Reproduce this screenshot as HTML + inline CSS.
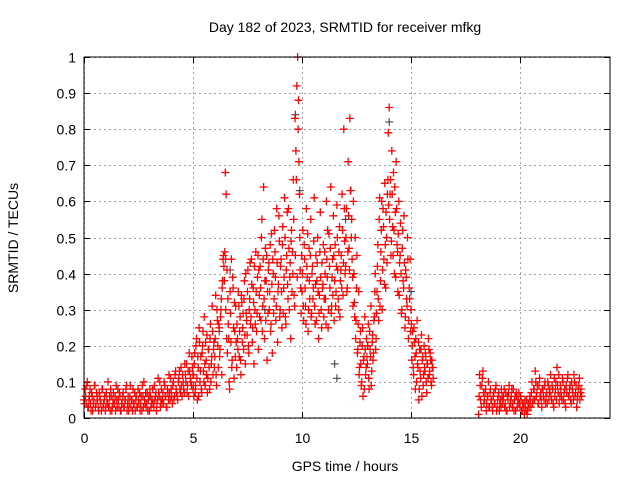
<!DOCTYPE html>
<html><head><meta charset="utf-8"><style>
html,body{margin:0;padding:0;background:#fff;}
svg text{font-family:"Liberation Sans",sans-serif;font-size:14px;fill:#000;}
</style></head><body>
<svg id="chart" width="640" height="480" viewBox="0 0 640 480" xmlns="http://www.w3.org/2000/svg">
<rect width="640" height="480" fill="#fff"/>
<text x="345" y="32" text-anchor="middle">Day 182 of 2023, SRMTID for receiver mfkg</text>
<text x="345" y="471" text-anchor="middle">GPS time / hours</text>
<text x="0" y="0" text-anchor="middle" transform="translate(18,238) rotate(-90)">SRMTID / TECUs</text>
<g id="grid"></g>
<g id="ticks"></g>
<g id="marks"></g>
<rect x="84" y="57" width="526" height="361" fill="none" stroke="#000" stroke-width="1"/>
</svg>
<script>
const xTicks=[0,5,10,15,20];
const yTicks=[0,0.1,0.2,0.3,0.4,0.5,0.6,0.7,0.8,0.9,1];
const yTickLabels=["0","0.1","0.2","0.3","0.4","0.5","0.6","0.7","0.8","0.9","1"];
const segAStart=0, segAStep=0.05;
const segAValues=[0.05,0.08,0.04,0.10,0.03,0.06,0.04,0.07,0.02,0.05,
0.09,0.04,0.06,0.03,0.07,0.05,0.02,0.08,0.04,0.06,
0.03,0.05,0.10,0.04,0.02,0.06,0.03,0.07,0.04,0.02,
0.05,0.08,0.03,0.06,0.02,0.04,0.07,0.03,0.05,0.09,
0.04,0.02,0.06,0.03,0.05,0.08,0.04,0.02,0.06,0.03,
0.05,0.07,0.04,0.02,0.06,0.10,0.04,0.03,0.07,0.05,
0.02,0.06,0.04,0.08,0.03,0.05,0.07,0.04,0.11,0.06,
0.03,0.08,0.05,0.04,0.09,0.06,0.03,0.07,0.12,0.05,
0.08,0.04,0.10,0.06,0.13,0.07,0.05,0.11,0.08,0.14,
0.06,0.10,0.07,0.12,0.15,0.09,0.06,0.13,0.10,0.17,0.08];
const segA2Start=0.025;
const segA2Values=[0.04,0.06,0.09,0.03,0.05,0.08,0.02,0.06,0.04,0.09,
0.03,0.07,0.05,0.02,0.06,0.04,0.08,0.03,0.05,0.02,
0.07,0.04,0.03,0.06,0.08,0.02,0.05,0.04,0.06,0.09,
0.03,0.05,0.07,0.02,0.04,0.06,0.03,0.05,0.08,0.02,
0.06,0.04,0.09,0.05,0.02,0.04,0.07,0.05,0.03,0.08,
0.04,0.02,0.06,0.09,0.03,0.05,0.07,0.04,0.02,0.06,
0.08,0.03,0.05,0.04,0.09,0.06,0.02,0.05,0.07,0.10,
0.05,0.04,0.07,0.10,0.06,0.03,0.08,0.05,0.07,0.11,
0.06,0.09,0.05,0.12,0.08,0.06,0.10,0.13,0.07,0.09,
0.12,0.08,0.15,0.10,0.07,0.13,0.18,0.11,0.09,0.14,0.12];
const segBStart=5, segBStep=0.04;
const segBValues=[0.12,0.06,0.18,0.09,0.22,0.05,0.14,0.25,0.10,0.17,0.07,0.20,0.13,0.28,0.09,0.16,0.23,0.11,0.19,0.08,0.26,0.15,0.31,0.12,0.21,
0.17,0.34,0.09,0.27,0.14,0.25,0.19,0.30,0.12,0.38,0.45,0.38,0.68,0.62,0.41,0.33,0.22,0.08,0.29,0.44,0.16,0.36,0.11,0.24,0.31,
0.14,0.22,0.35,0.17,0.28,0.12,0.32,0.25,0.19,0.38,0.15,0.29,0.23,0.41,0.18,0.33,0.26,0.44,0.21,0.36,0.15,0.30,0.46,0.24,0.39,
0.19,0.34,0.42,0.27,0.55,0.31,0.64,0.22,0.47,0.38,0.16,0.29,0.43,0.35,0.24,0.51,0.18,0.40,0.33,0.46,0.27,0.58,0.21,0.37,0.49,
0.30,0.44,0.25,0.53,0.36,0.61,0.28,0.41,0.57,0.33,0.47,0.39,0.22,0.52,0.46,0.66,0.34,0.83,0.74,0.92,1.00,0.88,0.62,0.41,0.29,
0.35,0.52,0.27,0.44,0.31,0.58,0.39,0.24,0.47,0.33,0.55,0.29,0.42,0.36,0.61,0.26,0.45,0.38,0.50,0.22,0.34,0.57,0.30,0.43,0.37,
0.28,0.46,0.33,0.60,0.39,0.25,0.51,0.36,0.64,0.31,0.44,0.56,0.27,0.48,0.35,0.59,0.41,0.30,0.53,0.38,0.45,0.62,0.34,0.80,0.49,
0.42,0.58,0.36,0.71,0.47,0.83,0.63,0.55,0.39,0.60,0.32,0.50,0.27,0.45,0.19,0.35,0.14,0.24,0.09,0.20,0.06,0.17,0.28,0.12,0.22,
0.15,0.26,0.08,0.19,0.31,0.13,0.23,0.18,0.28,0.40,0.22,0.35,0.48,0.27,0.61,0.38,0.52,0.30,0.58,0.44,0.65,0.36,0.50,0.62,0.79,
0.86,0.62,0.45,0.74,0.53,0.68,0.40,0.57,0.71,0.48,0.35,0.60,0.43,0.54,0.29,0.47,0.38,0.56,0.25,0.41,0.33,0.50,0.22,0.36,0.44,
0.30,0.16,0.24,0.12,0.21,0.08,0.18,0.27,0.14,0.05,0.19,0.11,0.23,0.16,0.09,0.20,0.13,0.17,0.07,0.15,0.22,0.12,0.18,0.10,0.16,0.14];
const segB2Start=5.02;
const segB2Values=[0.09,0.15,0.07,0.20,0.11,0.17,0.06,0.21,0.13,0.08,0.18,0.24,0.10,0.15,0.21,0.12,0.07,0.19,0.14,0.22,0.10,0.17,0.24,0.19,0.14,
0.22,0.12,0.30,0.20,0.26,0.17,0.28,0.33,0.36,0.44,0.42,0.46,0.30,0.22,0.18,0.26,0.10,0.35,0.21,0.14,0.39,0.25,0.32,0.17,0.21,
0.26,0.19,0.31,0.24,0.16,0.34,0.21,0.29,0.33,0.23,0.40,0.27,0.35,0.20,0.30,0.43,0.28,0.37,0.25,0.32,0.42,0.26,0.35,0.29,0.45,
0.41,0.28,0.36,0.50,0.24,0.44,0.33,0.38,0.27,0.45,0.35,0.41,0.30,0.48,0.26,0.37,0.44,0.29,0.52,0.39,0.31,0.43,0.35,0.56,0.28,
0.42,0.35,0.48,0.29,0.39,0.50,0.26,0.45,0.37,0.58,0.30,0.43,0.49,0.35,0.40,0.55,0.31,0.45,0.66,0.39,0.80,0.71,0.50,0.36,0.45,
0.40,0.31,0.48,0.36,0.26,0.42,0.51,0.30,0.38,0.45,0.28,0.40,0.33,0.49,0.31,0.37,0.27,0.43,0.35,0.29,0.46,0.39,0.25,0.36,0.48,
0.33,0.40,0.26,0.44,0.52,0.30,0.42,0.47,0.29,0.39,0.34,0.45,0.38,0.31,0.42,0.50,0.33,0.46,0.28,0.41,0.36,0.52,0.43,0.58,0.40,
0.50,0.35,0.46,0.56,0.41,0.63,0.50,0.44,0.31,0.40,0.28,0.22,0.36,0.18,0.26,0.12,0.21,0.15,0.10,0.25,0.16,0.08,0.19,0.14,0.17,
0.20,0.11,0.24,0.17,0.09,0.21,0.16,0.27,0.35,0.19,0.29,0.42,0.33,0.55,0.31,0.46,0.60,0.41,0.53,0.37,0.48,0.57,0.43,0.66,0.59,
0.55,0.66,0.49,0.62,0.45,0.52,0.64,0.39,0.58,0.46,0.51,0.34,0.45,0.40,0.30,0.52,0.36,0.43,0.28,0.39,0.31,0.44,0.27,0.33,0.24,
0.26,0.20,0.14,0.25,0.17,0.22,0.10,0.15,0.21,0.08,0.13,0.19,0.06,0.17,0.12,0.14,0.18,0.10,0.15,0.11,0.19,0.13,0.16,0.09,0.14,0.11];
const segCStart=18.1, segCStep=0.05;
const segCValues=[0.01,0.12,0.05,0.09,0.13,0.04,0.07,0.02,0.06,0.10,
0.03,0.08,0.05,0.02,0.07,0.04,0.09,0.03,0.06,0.02,
0.05,0.08,0.04,0.06,0.03,0.07,0.02,0.05,0.09,0.04,
0.06,0.03,0.08,0.05,0.02,0.06,0.04,0.07,0.03,0.05,
0.02,0.04,0.01,0.03,0.05,0.02,0.04,0.06,0.03,0.10,
0.05,0.08,0.13,0.06,0.09,0.04,0.11,0.07,0.03,0.08,
0.05,0.10,0.06,0.04,0.09,0.07,0.12,0.05,0.08,0.03,
0.06,0.10,0.14,0.07,0.04,0.09,0.06,0.11,0.05,0.08,
0.03,0.07,0.12,0.06,0.09,0.04,0.08,0.05,0.10,0.07,
0.03,0.06,0.09,0.05,0.08];
const segC2Start=18.125;
const segC2Values=[0.06,0.09,0.03,0.11,0.07,0.05,0.08,0.04,0.06,0.03,
0.07,0.05,0.03,0.06,0.04,0.08,0.02,0.05,0.07,0.04,
0.03,0.06,0.05,0.08,0.04,0.02,0.06,0.07,0.03,0.05,
0.08,0.04,0.02,0.06,0.07,0.03,0.05,0.04,0.06,0.02,
0.04,0.03,0.05,0.02,0.01,0.04,0.03,0.05,0.07,0.04,
0.08,0.05,0.10,0.07,0.04,0.09,0.06,0.05,0.08,0.06,
0.09,0.04,0.07,0.10,0.05,0.08,0.06,0.09,0.04,0.11,
0.08,0.05,0.09,0.12,0.06,0.08,0.05,0.10,0.07,0.04,
0.09,0.11,0.06,0.08,0.05,0.10,0.07,0.12,0.06,0.09,
0.05,0.08,0.11,0.07,0.06];
const blackHours=[6.5,6.7,9.7,12.0,14.0,11.5,11.6,15.0,8.3,6.2,9.9,13.0];
const blackValues=[0.44,0.41,0.84,0.55,0.82,0.15,0.11,0.35,0.30,0.24,0.63,0.20];

const X0=84,X1=610,XMAX=24.13,Y0=418,Y1=57;
function xs(h){return X0+(X1-X0)*h/XMAX;}
function ys(v){return Y0-(Y0-Y1)*v;}
const NS="http://www.w3.org/2000/svg";
const grid=document.getElementById('grid'),ticks=document.getElementById('ticks'),marks=document.getElementById('marks');
function line(p,x1,y1,x2,y2,st,dash){const l=document.createElementNS(NS,'line');l.setAttribute('x1',x1);l.setAttribute('y1',y1);l.setAttribute('x2',x2);l.setAttribute('y2',y2);l.setAttribute('stroke',st);if(dash)l.setAttribute('stroke-dasharray',dash);p.appendChild(l);return l;}
function txt(p,x,y,s,anchor){const t=document.createElementNS(NS,'text');t.setAttribute('x',x);t.setAttribute('y',y);t.setAttribute('text-anchor',anchor);t.textContent=s;p.appendChild(t);return t;}
xTicks.forEach(t=>{const x=Math.round(xs(t))+0.5;
 const g=line(grid,x,Y1,x,Y0,'#a0a0a0','2,3');
 
 
 line(ticks,x,Y0,x,Y0-6,'#000');line(ticks,x,Y1,x,Y1+6,'#000');
 const l=txt(ticks,x,443,String(t),'middle');
 
 });
yTicks.forEach((t,i)=>{const y=Math.round(ys(t))+0.5;
 const g=line(grid,X0,y,X1,y,'#a0a0a0','2,3');
 
 
 line(ticks,X0,y,X0+6,y,'#000');line(ticks,X1,y,X1-6,y,'#000');
 const l=txt(ticks,76,y+5,yTickLabels[i],'end');
 
 });
let d='';
function plus(h,v){const x=xs(h),y=ys(v);return `M${(x-4).toFixed(1)} ${y.toFixed(1)}h8M${x.toFixed(1)} ${(y-4).toFixed(1)}v8`;}
[[segAStart,segAStep,segAValues],[segA2Start,segAStep,segA2Values],[segBStart,segBStep,segBValues],[segB2Start,segBStep,segB2Values],[segCStart,segCStep,segCValues],[segC2Start,segCStep,segC2Values]].forEach(([s,st,vals])=>{
 vals.forEach((v,i)=>{d+=plus(s+i*st,v);});});
let db='';blackHours.forEach((h,i)=>{db+=plus(h,blackValues[i]);});
const pb=document.createElementNS(NS,'path');pb.setAttribute('d',db);pb.setAttribute('stroke','#333');pb.setAttribute('fill','none');


marks.appendChild(pb);
const pr=document.createElementNS(NS,'path');pr.setAttribute('d',d);pr.setAttribute('stroke','#ff0000');pr.setAttribute('stroke-width','1.3');pr.setAttribute('fill','none');


marks.appendChild(pr);
</script>
</body></html>
